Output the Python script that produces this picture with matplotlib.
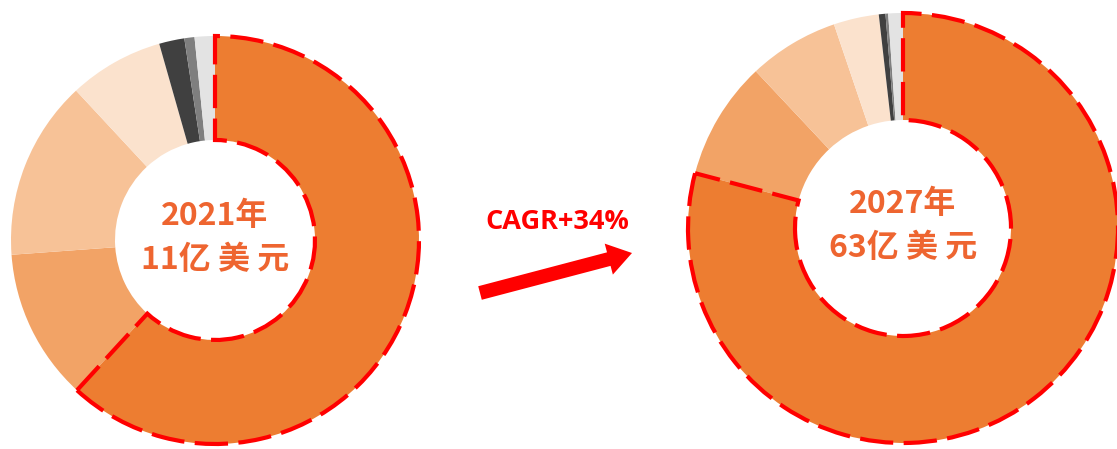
import matplotlib.pyplot as plt
from matplotlib.patches import FancyArrow

plt.rcParams['font.family'] = ['Noto Sans CJK SC', 'DejaVu Sans']

# market share by segment, 2021 and 2027 (percent)
share_2021 = [61.7, 12.0, 14.2, 7.5, 2.0, 0.8, 1.6]
share_2027 = [79.1, 8.9, 6.8, 3.4, 0.5, 0.2, 1.1]
colors = ['#ED7D31', '#F2A366', '#F7C297', '#FBE2CD', '#404040', '#7F7F7F', '#E3E3E3']
labels_2021 = ['2021年', '11亿 美 元']
labels_2027 = ['2027年', '63亿 美 元']
cagr_text = 'CAGR+34%'

W, H = 1117, 449
fig = plt.figure(figsize=(W / 100, H / 100), dpi=100)
ax = fig.add_axes([0, 0, 1, 1])


def donut(vals, cx, cy, r, r_in, lines):
    wedges, _ = ax.pie(vals, colors=colors, startangle=90, counterclock=False,
                       center=(cx, cy), radius=r, frame=True,
                       wedgeprops=dict(width=r - r_in, linewidth=0))
    big = wedges[0]
    big.set_edgecolor('#FF0000')
    big.set_linewidth(3)
    big.set_linestyle((0, (8, 2.5)))
    big.set_zorder(3)
    ax.text(cx, cy + 24, lines[0], ha='center', va='center', fontsize=23,
            fontweight='bold', color='#EE6530')
    ax.text(cx, cy - 20, lines[1], ha='center', va='center', fontsize=23,
            fontweight='bold', color='#EE6530')


donut(share_2021, 215, 209, 204, 100, labels_2021)
donut(share_2027, 903, 221, 215, 108, labels_2027)
ax.set_xlim(0, W)
ax.set_ylim(0, H)
ax.set_aspect('equal')
ax.axis('off')

ax.add_patch(FancyArrow(480, 156, 152, 40, width=14, head_width=32, head_length=24,
                        length_includes_head=True, color='#FF0000', linewidth=0))
ax.text(557, 227, cagr_text, ha='center', va='center', fontsize=19.5,
        fontweight='bold', color='#FF0000', family=['Open Sans', 'DejaVu Sans'])

fig.savefig('out.png', dpi=100)
